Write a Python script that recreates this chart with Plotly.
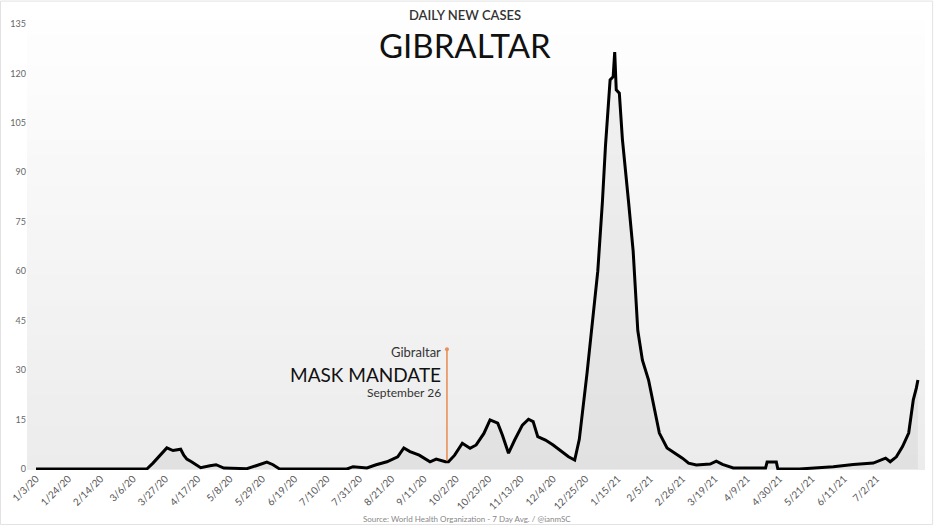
import pandas as pd
import plotly.graph_objects as go

# ---- data (7-day average of daily new cases) ----
dates = [
    "2020-01-03", "2020-03-15", "2020-03-19", "2020-03-23", "2020-03-28", "2020-04-01",
    "2020-04-06", "2020-04-08", "2020-04-10", "2020-04-13", "2020-04-19", "2020-04-25",
    "2020-04-29", "2020-05-04", "2020-05-19", "2020-05-25", "2020-06-01", "2020-06-05",
    "2020-06-09", "2020-07-23", "2020-07-27", "2020-08-05", "2020-08-11", "2020-08-18",
    "2020-08-25", "2020-08-29", "2020-09-02", "2020-09-08", "2020-09-15", "2020-09-19",
    "2020-09-25", "2020-09-27", "2020-10-01", "2020-10-06", "2020-10-11", "2020-10-15",
    "2020-10-20", "2020-10-24", "2020-10-29", "2020-11-01", "2020-11-05", "2020-11-09",
    "2020-11-14", "2020-11-18", "2020-11-21", "2020-11-24", "2020-11-29", "2020-12-04",
    "2020-12-08", "2020-12-14", "2020-12-18", "2020-12-21", "2020-12-26", "2020-12-30",
    "2021-01-02", "2021-01-05", "2021-01-07", "2021-01-10", "2021-01-12", "2021-01-13",
    "2021-01-14", "2021-01-16", "2021-01-18", "2021-01-22", "2021-01-25", "2021-01-28",
    "2021-01-31", "2021-02-04", "2021-02-08", "2021-02-11", "2021-02-16", "2021-02-20",
    "2021-02-26", "2021-03-02", "2021-03-07", "2021-03-16", "2021-03-20", "2021-03-24",
    "2021-03-31", "2021-04-21", "2021-04-22", "2021-04-28", "2021-04-29", "2021-05-13",
    "2021-05-22", "2021-06-04", "2021-06-17", "2021-06-30", "2021-07-08", "2021-07-11",
    "2021-07-15", "2021-07-19", "2021-07-23", "2021-07-26", "2021-07-28", "2021-07-29",
]
cases_7day = [
    0, 0, 1.8, 3.7, 6.4, 5.6,
    6.0, 4.2, 3.0, 2.2, 0.4, 1.0,
    1.3, 0.3, 0.1, 1.0, 2.1, 1.3,
    0.1, 0, 0.7, 0.3, 1.3, 2.2,
    3.7, 6.4, 5.3, 4.2, 2.2, 3.0,
    2.2, 2.2, 4.2, 7.8, 6.3, 7.3,
    10.8, 14.9, 13.9, 10.3, 4.8, 8.8,
    13.3, 15.1, 14.4, 9.8, 8.8, 7.3,
    5.8, 3.7, 2.7, 9.0, 29, 47,
    60, 81, 98, 118, 119, 126.5,
    115, 114, 100, 81, 66, 42,
    33, 27, 18, 10.9, 6.4, 5.2,
    3.3, 1.8, 1.2, 1.5, 2.4, 1.4,
    0.3, 0.3, 2.1, 2.1, 0, 0,
    0.3, 0.7, 1.4, 1.8, 3.3, 2.2,
    3.7, 6.8, 10.9, 21, 24.6, 27,
]

tick_start = "2020-01-03"
tick_count = 27          # every 21 days up to 7/2/21
y_ticks = [0, 15, 30, 45, 60, 75, 90, 105, 120, 135]

mandate_date = "2020-09-26"
mandate_base = 2.5
mandate_top = 36.3

title_small = "DAILY NEW CASES"
title_big = "GIBRALTAR"
source_text = "Source: World Health Organization - 7 Day Avg. / @ianmSC"

# ---- build ticks ----
t0 = pd.Timestamp(tick_start)
tick_dates = [t0 + pd.Timedelta(days=21 * i) for i in range(tick_count)]
tick_text = [f"{d.month}/{d.day}/{d.strftime('%y')}" for d in tick_dates]

x_range = [t0 - pd.Timedelta(days=5.85), t0 + pd.Timedelta(days=577.6)]

FONT = "Lato, 'Noto Sans', sans-serif"

fig = go.Figure()

# faint area beneath the curve (daily bars impression)
fig.add_trace(go.Scatter(
    x=dates, y=cases_7day, mode="lines",
    line=dict(color="rgba(0,0,0,0)", width=0),
    fill="tozeroy", fillcolor="rgba(0,0,0,0.045)",
    hoverinfo="skip", showlegend=False,
))
fig.add_trace(go.Scatter(
    x=dates, y=cases_7day, mode="lines",
    line=dict(color="#000000", width=3),
    showlegend=False,
))

shapes = []
# gradient plot background
n_bands = 30
for i in range(n_bands):
    f = i / (n_bands - 1)
    g = int(round(236 + (254 - 236) * f))
    shapes.append(dict(
        type="rect", xref="paper", yref="paper",
        x0=0, x1=1, y0=i / n_bands, y1=(i + 1) / n_bands,
        fillcolor=f"rgb({g},{g},{g})", line=dict(width=0), layer="below",
    ))
# mandate line
shapes.append(dict(
    type="line", xref="x", yref="y",
    x0=mandate_date, x1=mandate_date, y0=mandate_base, y1=mandate_top,
    line=dict(color="#E8905A", width=1.6),
))
# outer frame
shapes.append(dict(
    type="rect", xref="paper", yref="paper",
    x0=-0.0295, x1=1.0085, y0=-0.121, y1=1.042,
    line=dict(color="#e2e2e2", width=1), fillcolor="rgba(0,0,0,0)", layer="above",
))

fig.add_trace(go.Scatter(
    x=[mandate_date], y=[mandate_top], mode="markers",
    marker=dict(color="#E8905A", size=4), showlegend=False, hoverinfo="skip",
))

annotations = [
    dict(xref="x", yref="y", x=mandate_date, y=35.6, text="Gibraltar",
         xanchor="right", yanchor="middle", xshift=-4, showarrow=False,
         font=dict(family=FONT, size=13, color="#333333")),
    dict(xref="x", yref="y", x=mandate_date, y=28.8, text="MASK MANDATE",
         xanchor="right", yanchor="middle", xshift=-4, showarrow=False,
         font=dict(family=FONT, size=19, color="#111111")),
    dict(xref="x", yref="y", x=mandate_date, y=23.3, text="September 26",
         xanchor="right", yanchor="middle", xshift=-4, showarrow=False,
         font=dict(family=FONT, size=12, color="#333333")),
    dict(xref="paper", yref="paper", x=(465 - 27) / 898, y=(470 - 15) / 450,
         text=title_small, xanchor="center", yanchor="middle",
         showarrow=False, font=dict(family=FONT, size=13, color="#333333", weight=600)),
    dict(xref="paper", yref="paper", x=(465 - 27) / 898, y=(470 - 45) / 450,
         text=title_big, xanchor="center", yanchor="middle",
         showarrow=False, font=dict(family=FONT, size=33, color="#111111")),
    dict(xref="paper", yref="paper", x=(467 - 27) / 898, y=(470 - 519) / 450,
         text=source_text, xanchor="center", yanchor="middle",
         showarrow=False, font=dict(family=FONT, size=8, color="#888888")),
]

fig.update_layout(
    width=934, height=526,
    margin=dict(l=27, r=9, t=20, b=56),
    paper_bgcolor="white", plot_bgcolor="white",
    shapes=shapes, annotations=annotations,
    font=dict(family=FONT),
    xaxis=dict(
        type="date", range=x_range,
        tickmode="array", tickvals=tick_dates, ticktext=tick_text,
        tickangle=-45, tickfont=dict(size=10, color="#555555"),
        showgrid=False, zeroline=False, showline=False, ticks="",
    ),
    yaxis=dict(
        range=[-0.3, 136.2], tickmode="array", tickvals=y_ticks,
        tickfont=dict(size=9, color="#666666"),
        showgrid=False, zeroline=False, showline=False, ticks="",
    ),
)

fig.write_html(
    "out.html",
    config={"displayModeBar": False},
    post_script="document.body.style.margin='0';document.body.style.overflow='hidden';",
)
